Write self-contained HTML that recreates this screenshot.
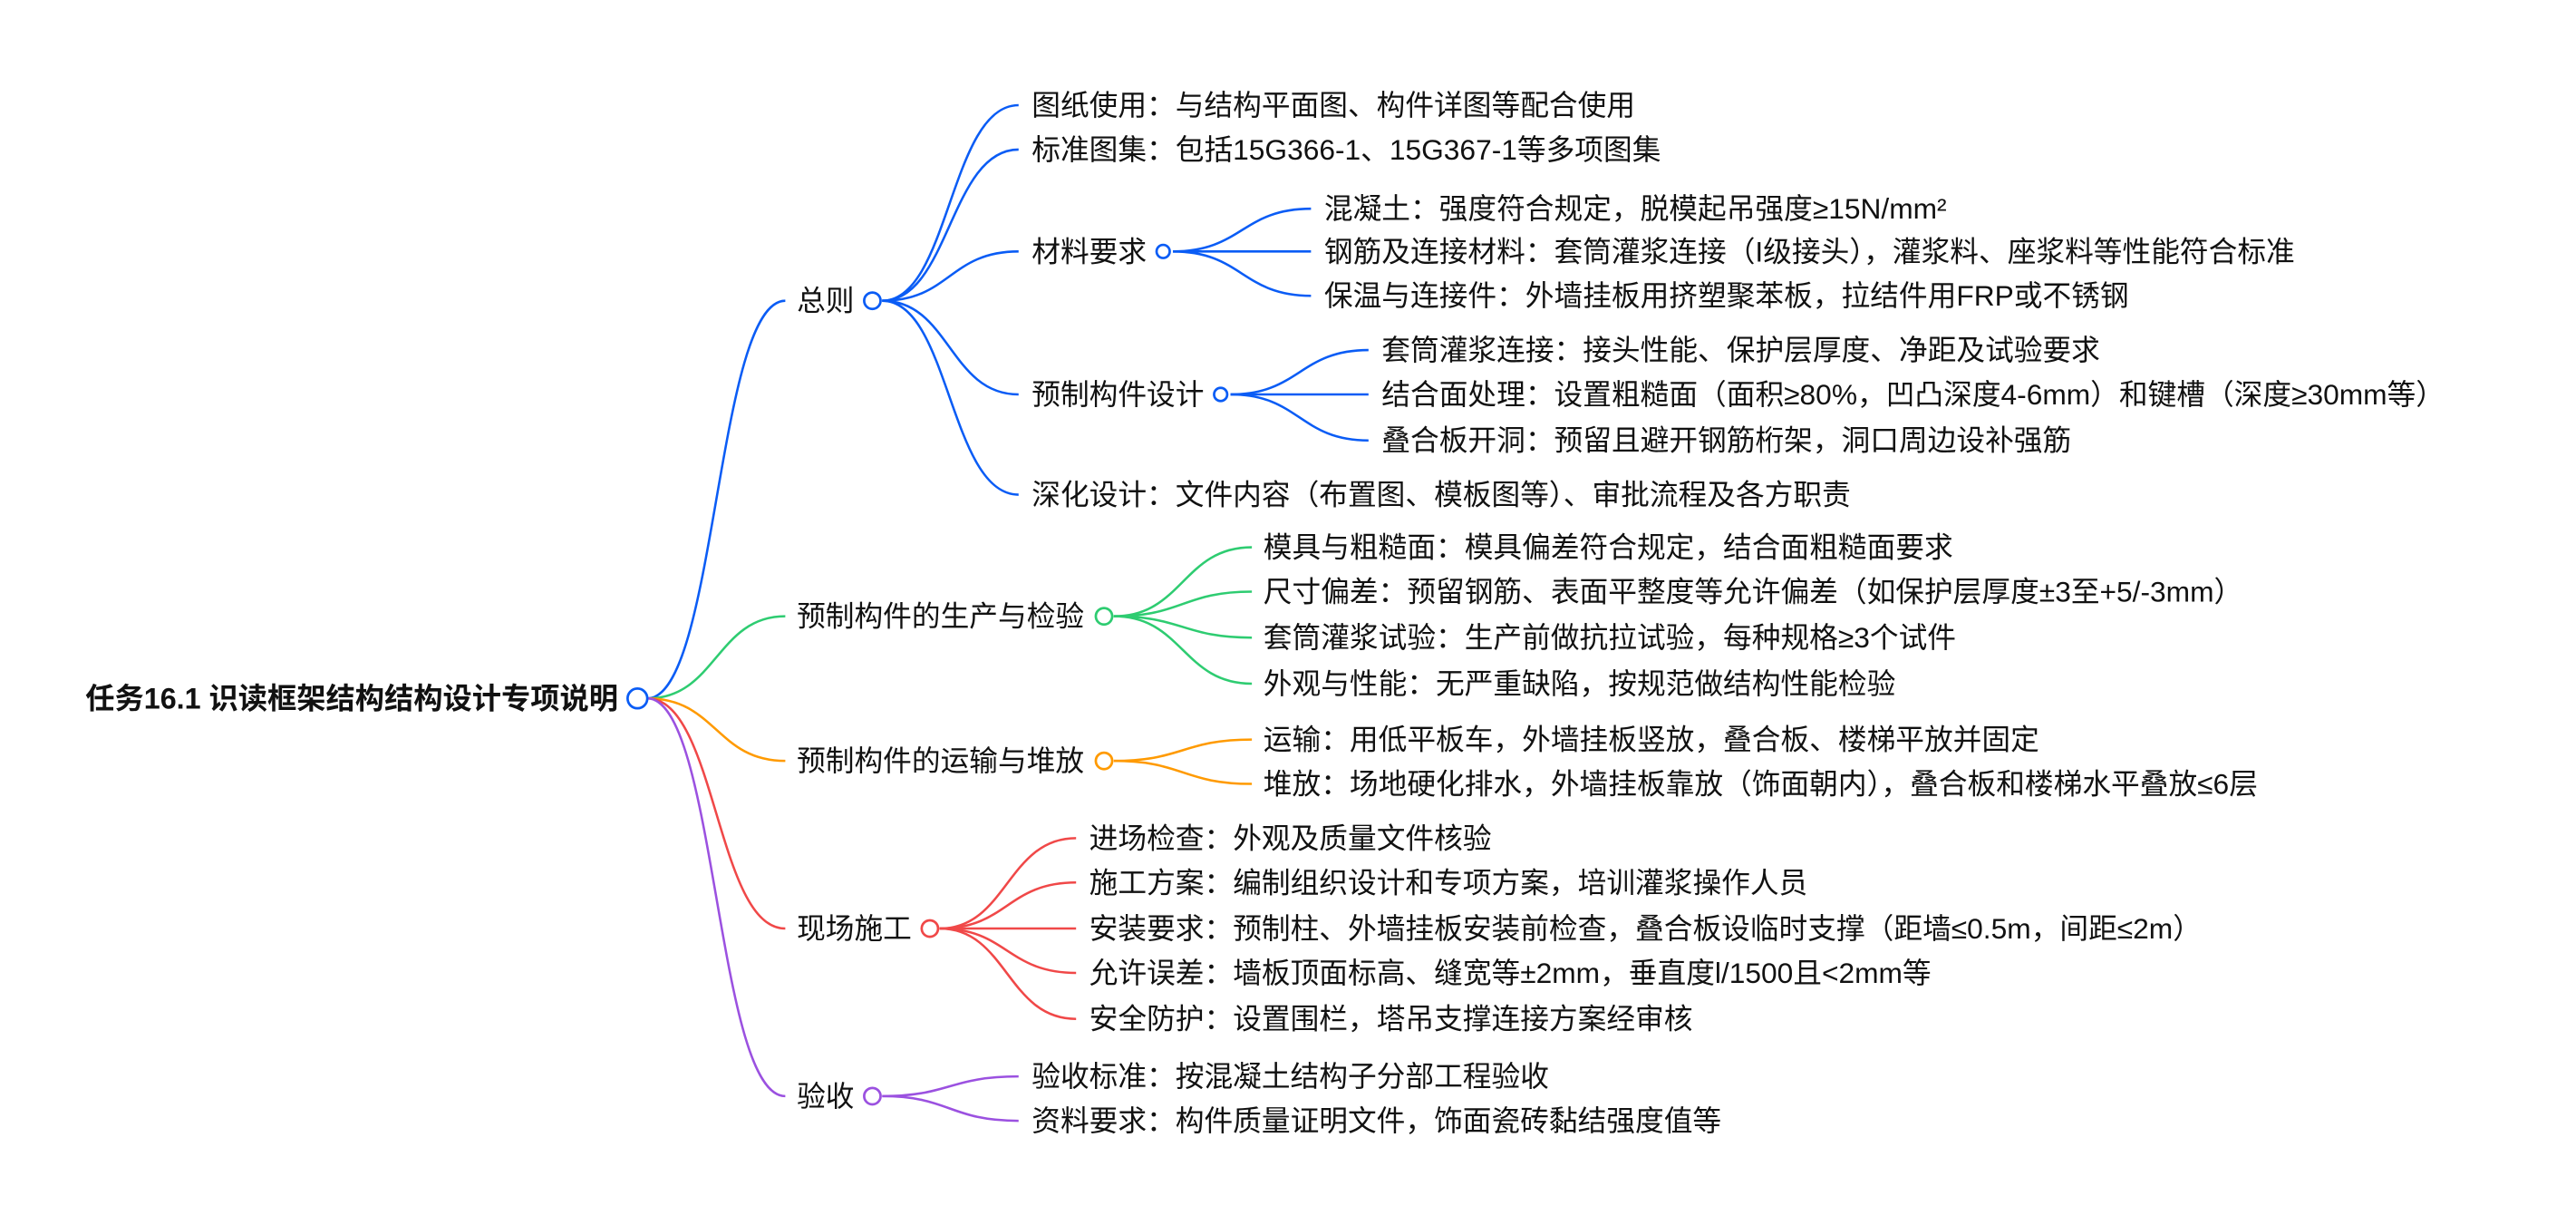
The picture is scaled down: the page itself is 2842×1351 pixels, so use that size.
<!DOCTYPE html>
<html><head><meta charset="utf-8"><style>
html,body{margin:0;padding:0;background:#fff;}
svg{display:block;}
text{font-family:"Liberation Sans","Noto Sans CJK SC",sans-serif;font-size:17.5px;fill:#111;dominant-baseline:central;}
.b{stroke:#0a5cf5}.g{stroke:#2ecc71}.o{stroke:#ff9a00}.r{stroke:#f04848}.p{stroke:#9b51e0}
path{fill:none;stroke-width:1.4}
circle{fill:#fff;stroke-width:1.5}
</style></head><body>
<svg width="2842" height="1351" viewBox="0 0 1568 745.4" xmlns="http://www.w3.org/2000/svg">
<text x="52" y="425" style="font-weight:bold;font-size:17.8px">任务16.1 识读框架结构结构设计专项说明</text>
<path class="b" d="M394 425 C436 425,436 183,478 183"/>
<path class="g" d="M394 425 C436 425,436 375,478 375"/>
<path class="o" d="M394 425 C436 425,436 463,478 463"/>
<path class="r" d="M394 425 C436 425,436 565,478 565"/>
<path class="p" d="M394 425 C436 425,436 667,478 667"/>
<circle class="b" cx="388" cy="425" r="6"/>
<text x="485" y="183">总则</text>
<path class="b" d="M537 183 C578 183,578 64,620 64"/>
<path class="b" d="M537 183 C578 183,578 91,620 91"/>
<path class="b" d="M537 183 C578 183,578 153,620 153"/>
<path class="b" d="M537 183 C578 183,578 240,620 240"/>
<path class="b" d="M537 183 C578 183,578 301,620 301"/>
<circle class="b" cx="531" cy="183" r="5"/>
<text x="628" y="64">图纸使用：与结构平面图、构件详图等配合使用</text>
<text x="628" y="91">标准图集：包括15G366-1、15G367-1等多项图集</text>
<text x="628" y="153">材料要求</text>
<text x="628" y="240">预制构件设计</text>
<text x="628" y="301">深化设计：文件内容（布置图、模板图等）、审批流程及各方职责</text>
<path class="b" d="M714 153 C756 153,756 127,798 127"/>
<path class="b" d="M714 153 L798 153"/>
<path class="b" d="M714 153 C756 153,756 180,798 180"/>
<circle class="b" cx="708" cy="153" r="4"/>
<text x="806" y="127">混凝土：强度符合规定，脱模起吊强度≥15N/mm²</text>
<text x="806" y="153">钢筋及连接材料：套筒灌浆连接（I级接头），灌浆料、座浆料等性能符合标准</text>
<text x="806" y="180">保温与连接件：外墙挂板用挤塑聚苯板，拉结件用FRP或不锈钢</text>
<path class="b" d="M749 240 C791 240,791 213,833 213"/>
<path class="b" d="M749 240 L833 240"/>
<path class="b" d="M749 240 C791 240,791 268,833 268"/>
<circle class="b" cx="743" cy="240" r="4"/>
<text x="841" y="213">套筒灌浆连接：接头性能、保护层厚度、净距及试验要求</text>
<text x="841" y="240">结合面处理：设置粗糙面（面积≥80%，凹凸深度4-6mm）和键槽（深度≥30mm等）</text>
<text x="841" y="268">叠合板开洞：预留且避开钢筋桁架，洞口周边设补强筋</text>
<text x="485" y="375">预制构件的生产与检验</text>
<path class="g" d="M678 375 C720 375,720 333,762 333"/>
<path class="g" d="M678 375 C720 375,720 360,762 360"/>
<path class="g" d="M678 375 C720 375,720 388,762 388"/>
<path class="g" d="M678 375 C720 375,720 416,762 416"/>
<circle class="g" cx="672" cy="375" r="5"/>
<text x="769" y="333">模具与粗糙面：模具偏差符合规定，结合面粗糙面要求</text>
<text x="769" y="360">尺寸偏差：预留钢筋、表面平整度等允许偏差（如保护层厚度±3至+5/-3mm）</text>
<text x="769" y="388">套筒灌浆试验：生产前做抗拉试验，每种规格≥3个试件</text>
<text x="769" y="416">外观与性能：无严重缺陷，按规范做结构性能检验</text>
<text x="485" y="463">预制构件的运输与堆放</text>
<path class="o" d="M678 463 C720 463,720 450,762 450"/>
<path class="o" d="M678 463 C720 463,720 477,762 477"/>
<circle class="o" cx="672" cy="463" r="5"/>
<text x="769" y="450">运输：用低平板车，外墙挂板竖放，叠合板、楼梯平放并固定</text>
<text x="769" y="477">堆放：场地硬化排水，外墙挂板靠放（饰面朝内），叠合板和楼梯水平叠放≤6层</text>
<text x="485" y="565">现场施工</text>
<path class="r" d="M572 565 C613 565,613 510,655 510"/>
<path class="r" d="M572 565 C613 565,613 537,655 537"/>
<path class="r" d="M572 565 L655 565"/>
<path class="r" d="M572 565 C613 565,613 592,655 592"/>
<path class="r" d="M572 565 C613 565,613 620,655 620"/>
<circle class="r" cx="566" cy="565" r="5"/>
<text x="663" y="510">进场检查：外观及质量文件核验</text>
<text x="663" y="537">施工方案：编制组织设计和专项方案，培训灌浆操作人员</text>
<text x="663" y="565">安装要求：预制柱、外墙挂板安装前检查，叠合板设临时支撑（距墙≤0.5m，间距≤2m）</text>
<text x="663" y="592">允许误差：墙板顶面标高、缝宽等±2mm，垂直度l/1500且&lt;2mm等</text>
<text x="663" y="620">安全防护：设置围栏，塔吊支撑连接方案经审核</text>
<text x="485" y="667">验收</text>
<path class="p" d="M537 667 C578 667,578 655,620 655"/>
<path class="p" d="M537 667 C578 667,578 682,620 682"/>
<circle class="p" cx="531" cy="667" r="5"/>
<text x="628" y="655">验收标准：按混凝土结构子分部工程验收</text>
<text x="628" y="682">资料要求：构件质量证明文件，饰面瓷砖黏结强度值等</text>
</svg>
</body></html>
